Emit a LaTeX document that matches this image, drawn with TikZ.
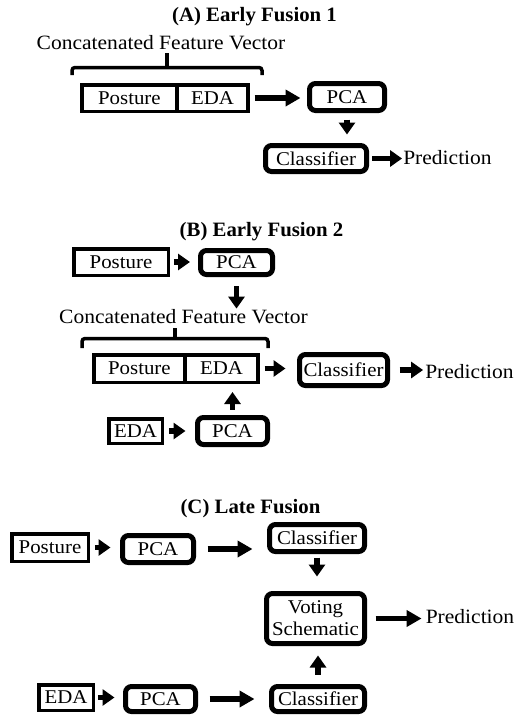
\documentclass[tikz,border=0pt]{standalone}
\usepackage{fontspec}
\setmainfont{Liberation Serif}
\usetikzlibrary{arrows.meta,calc}
\newcommand{\bxt}[1]{\scalebox{1.07}[1]{#1}}
\newcommand{\lbt}[1]{\scalebox{1.06}[1]{#1}}
\newcommand{\ttlt}[1]{\scalebox{1.02}[1]{#1}}
\tikzset{
  sqbox/.style={draw, line width=3.5pt, rectangle, inner sep=0pt, font=\fontsize{19.5}{22}\selectfont},
  rdbox/.style={draw, line width=5pt, rectangle, rounded corners=6pt, inner sep=0pt, font=\fontsize{19.5}{22}\selectfont, align=center},
  lbl/.style={inner sep=0pt, font=\fontsize{20.3}{22}\selectfont},
  ttl/.style={inner sep=0pt, font=\fontsize{20.4}{22}\selectfont\bfseries},
  bigarr/.style={line width=5.5pt, -{Triangle[length=15pt,width=16pt]}},
  smarr/.style={line width=5.5pt, -{Triangle[length=12pt,width=16pt]}},
  bracepath/.style={line width=3.5pt, rounded corners=3pt}
}
\begin{document}
\begin{tikzpicture}[x=1pt,y=-1pt]
\useasboundingbox[fill=white] (0,0) rectangle (517,715);

% ---------------- (A) ----------------
\node[ttl] (tA) at (254.5,17) {\ttlt{(A) Early Fusion 1}};
\node[lbl] (cA) at (161,43) {\lbt{Concatenated Feature Vector}};
\draw[bracepath] (72,75) -- (72,67.5) -- (262,67.5) -- (262,75);
\draw[line width=3.5pt] (167,67.5) -- (167,53);
\node[sqbox, minimum width=95.25, minimum height=26.5] (pA) at (129.4,98) {\bxt{Posture}};
\node[sqbox, minimum width=71.25, minimum height=26.5] (eA) at (212.6,98) {\bxt{EDA}};
\node[rdbox, minimum width=75, minimum height=27] (pcaA) at (347,97) {\bxt{PCA}};
\node[rdbox, minimum width=101, minimum height=26] (clsA) at (316,158.5) {\bxt{Classifier}};
\node[lbl] (prA) at (447.5,158) {\lbt{Prediction}};
\draw[bigarr, shorten <=4.75pt, shorten >=6.5pt] (eA.east) -- (eA.east -| pcaA.west);
\draw[smarr, shorten <=6.5pt, shorten >=8.5pt] (pcaA.south) -- (pcaA.south |- clsA.north);
\draw[smarr, shorten <=3pt, shorten >=1pt] (clsA.east) -- (clsA.east -| prA.west);

% ---------------- (B) ----------------
\node[ttl] (tB) at (261.5,232) {\ttlt{(B) Early Fusion 2}};
\node[sqbox, minimum width=94.5, minimum height=26.5] (posB) at (121,262) {\bxt{Posture}};
\node[rdbox, minimum width=72, minimum height=24] (pcaB) at (236.5,262.5) {\bxt{PCA}};
\node[lbl] (cB) at (183.5,317) {\lbt{Concatenated Feature Vector}};
\draw[bracepath] (82,348) -- (82,338.5) -- (268,338.5) -- (268,348);
\draw[line width=3.5pt] (175,338.5) -- (175,328);
\node[sqbox, minimum width=91.25, minimum height=27.5] (pB) at (139.4,368.5) {\bxt{Posture}};
\node[sqbox, minimum width=73.25, minimum height=27.5] (eB) at (221.6,368.5) {\bxt{EDA}};
\node[rdbox, minimum width=88, minimum height=31] (clsB) at (343.5,370) {\bxt{Classifier}};
\node[lbl] (prB) at (469.5,372) {\lbt{Prediction}};
\node[sqbox, minimum width=53.5, minimum height=24.5] (edaB) at (135.5,431) {\bxt{EDA}};
\node[rdbox, minimum width=70, minimum height=27] (pcaB2) at (232.5,431) {\bxt{PCA}};
\draw[smarr, shorten <=3.75pt, shorten >=8pt] (posB.east) -- (posB.east -| pcaB.west);
\draw[smarr, shorten <=9pt, shorten >=1pt] (pcaB.south) -- (pcaB.south |- cB.north);
\draw[smarr, shorten <=4.75pt, shorten >=11.5pt] (eB.east) -- (eB.east -| clsB.west);
\draw[smarr, shorten <=9.5pt, shorten >=2pt] (clsB.east) -- (clsB.east -| prB.west);
\draw[smarr, shorten <=4.75pt, shorten >=9.5pt] (edaB.east) -- (edaB.east -| pcaB2.west);
\draw[smarr, shorten <=5.5pt, shorten >=8pt] (pcaB2.north) -- (pcaB2.north |- eB.south);

% ---------------- (C) ----------------
\node[ttl] (tC) at (250.5,509) {\ttlt{(C) Late Fusion}};
\node[sqbox, minimum width=76.5, minimum height=27.5] (posC) at (50,547.5) {\bxt{Posture}};
\node[rdbox, minimum width=71, minimum height=27] (pcaC1) at (158,549) {\bxt{PCA}};
\node[rdbox, minimum width=95, minimum height=27] (clsC1) at (317,538) {\bxt{Classifier}};
\node[rdbox, minimum width=98, minimum height=50] (vote) at (315.5,618.5) {\bxt{Voting}\\\bxt{Schematic}};
\node[lbl] (prC) at (470,617) {\lbt{Prediction}};
\node[sqbox, minimum width=54.5, minimum height=25.5] (edaC) at (66,697.5) {\bxt{EDA}};
\node[rdbox, minimum width=70, minimum height=25] (pcaC2) at (160.5,699) {\bxt{PCA}};
\node[rdbox, minimum width=93, minimum height=25] (clsC2) at (318,699) {\bxt{Classifier}};
\draw[smarr, shorten <=4.75pt, shorten >=9.5pt] (posC.east) -- (posC.east -| pcaC1.west);
\draw[bigarr, shorten <=11.5pt, shorten >=14.5pt] (pcaC1.east) -- (pcaC1.east -| clsC1.west);
\draw[smarr, shorten <=3.5pt, shorten >=14.5pt] (clsC1.south) -- (clsC1.south |- vote.north);
\draw[bigarr, shorten <=8.5pt, shorten >=4pt] (vote.east) -- (vote.east -| prC.west);
\draw[smarr, shorten <=9.5pt, shorten >=9.5pt] (clsC2.north) -- (clsC2.north |- vote.south);
\draw[smarr, shorten <=2.75pt, shorten >=8.5pt] (edaC.east) -- (edaC.east -| pcaC2.west);
\draw[bigarr, shorten <=11.5pt, shorten >=14.5pt] (pcaC2.east) -- (pcaC2.east -| clsC2.west);
\end{tikzpicture}
\end{document}
